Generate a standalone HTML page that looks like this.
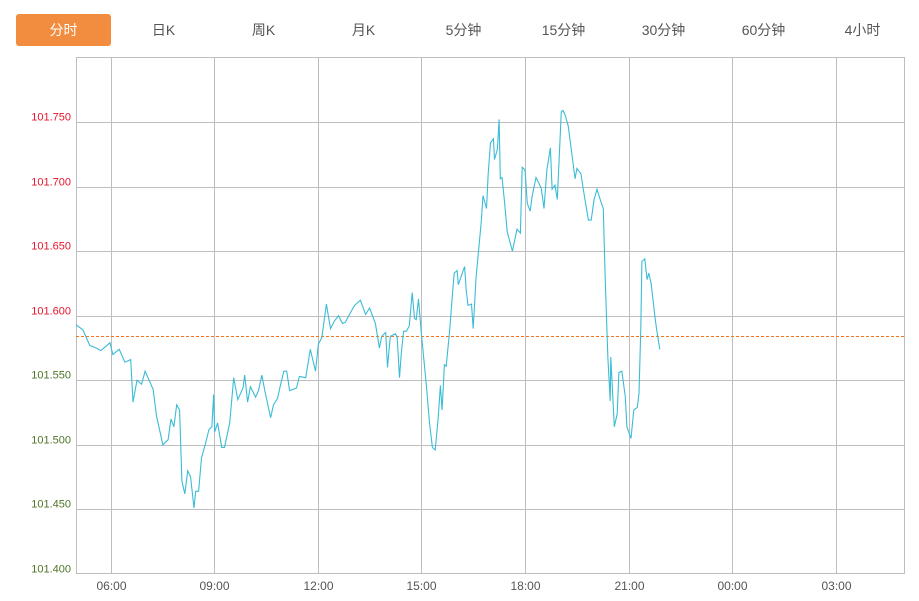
<!DOCTYPE html>
<html><head><meta charset="utf-8"><style>
body{margin:0;width:919px;height:601px;background:#fff;overflow:hidden;font-family:"Liberation Sans","Noto Sans CJK SC",sans-serif}
.tabs{position:absolute;left:0;top:0;width:919px;height:50px}
.tab{position:absolute;top:14px;height:32px;width:95px;line-height:32px;text-align:center;font-size:14px;color:#555}
.tab.active{background:#f28c3f;color:#fff;border-radius:3px}
svg{position:absolute;left:0;top:0}
</style></head><body>
<div class="tabs">
<div class="tab active" style="left:16px">分时</div>
<div class="tab" style="left:116px">日K</div>
<div class="tab" style="left:216px">周K</div>
<div class="tab" style="left:316px">月K</div>
<div class="tab" style="left:416px">5分钟</div>
<div class="tab" style="left:516px">15分钟</div>
<div class="tab" style="left:616px">30分钟</div>
<div class="tab" style="left:716px">60分钟</div>
<div class="tab" style="left:815px">4小时</div>
</div>
<svg id="chart" width="919" height="601"></svg>
<script>
const yTicks=[101.400,101.450,101.500,101.550,101.600,101.650,101.700,101.750];
const xTickLabels=["06:00","09:00","12:00","15:00","18:00","21:00","00:00","03:00"];
const xTickMinutes=[60,240,420,600,780,960,1140,1320];
const refPrice=101.584;
const minutes=[0,12,24,35,43,59,64,75,85,95,99,106,114,120,128,134,140,151,160,165,170,175,180,184,189,194,199,205,208,213,218,225,231,236,239,241,246,253,258,267,274,281,290,293,298,303,312,317,323,328,338,343,350,355,361,366,371,383,388,399,407,416,421,427,435,442,449,456,463,468,475,484,494,503,510,520,527,531,538,541,546,555,558,562,565,569,574,579,584,588,591,595,600,609,614,619,624,629,633,636,640,643,649,654,657,662,664,675,678,681,687,690,695,704,707,713,716,720,725,727,732,735,737,740,744,749,758,766,772,775,780,784,789,792,799,808,813,818,824,827,832,836,843,846,850,855,867,870,877,883,890,895,900,905,912,916,919,924,928,929,935,940,943,948,954,957,964,969,975,978,981,983,988,992,995,999,1006,1009,1014];
const prices=[101.593,101.589,101.577,101.575,101.573,101.579,101.570,101.574,101.564,101.566,101.533,101.550,101.547,101.557,101.549,101.543,101.522,101.500,101.504,101.520,101.514,101.531,101.527,101.472,101.462,101.480,101.475,101.451,101.464,101.464,101.490,101.501,101.512,101.514,101.539,101.510,101.517,101.498,101.498,101.517,101.552,101.535,101.544,101.554,101.533,101.545,101.537,101.542,101.554,101.542,101.521,101.531,101.536,101.546,101.557,101.557,101.542,101.544,101.553,101.552,101.574,101.557,101.578,101.583,101.609,101.590,101.596,101.600,101.594,101.595,101.601,101.608,101.612,101.601,101.606,101.594,101.575,101.584,101.587,101.560,101.584,101.586,101.583,101.552,101.571,101.588,101.588,101.592,101.618,101.598,101.597,101.613,101.586,101.544,101.517,101.498,101.496,101.520,101.546,101.527,101.562,101.561,101.588,101.617,101.633,101.635,101.624,101.638,101.619,101.608,101.609,101.590,101.630,101.673,101.693,101.683,101.710,101.734,101.737,101.721,101.729,101.752,101.706,101.707,101.690,101.665,101.650,101.667,101.664,101.715,101.713,101.687,101.681,101.692,101.707,101.699,101.683,101.713,101.730,101.698,101.701,101.690,101.758,101.759,101.755,101.747,101.706,101.714,101.710,101.693,101.674,101.674,101.690,101.698,101.688,101.683,101.631,101.567,101.534,101.568,101.514,101.524,101.556,101.557,101.538,101.514,101.505,101.527,101.529,101.540,101.590,101.642,101.644,101.628,101.633,101.625,101.598,101.588,101.574];
const L=76,R=905,T=57,B=574;
function xs(m){return L+m*(R-L)/1440;}
function ys(p){return 122+(101.75-p)*1291.4;}
const NS="http://www.w3.org/2000/svg";
const svg=document.getElementById('chart');
function mk(t,a){const e=document.createElementNS(NS,t);for(const k in a)e.setAttribute(k,a[k]);svg.appendChild(e);return e;}
let e=mk('rect',{x:L+0.5,y:T+0.5,width:R-L-1,height:B-T-1,fill:'none',stroke:'#bdbdbd'});


yTicks.forEach(v=>{
  const y=Math.round(ys(v))+0.5;
  if(v>101.4){const g=mk('line',{x1:L,x2:R,y1:y,y2:y,stroke:'#bdbdbd'});
  
  }
  const t=mk('text',{x:71,y:y-2,'text-anchor':'end','font-size':11,fill:v>refPrice?'#e8142c':'#4f7428'});
  t.textContent=v.toFixed(3);
  
  
});
xTickMinutes.forEach((m,i)=>{
  const x=Math.round(xs(m))+0.5;
  const g=mk('line',{x1:x,x2:x,y1:T,y2:B,stroke:'#bdbdbd'});
  
  
  const t=mk('text',{x:x,y:590,'text-anchor':'middle','font-size':12,fill:'#555'});
  t.textContent=xTickLabels[i];
  
  
});
const ry=Math.round(ys(refPrice))+0.5;
e=mk('line',{x1:L,x2:R,y1:ry,y2:ry,stroke:'#f5731f','stroke-dasharray':'3,2'});


const pts=minutes.map((m,i)=>xs(m).toFixed(1)+','+ys(prices[i]).toFixed(1)).join(' ');
e=mk('polyline',{points:pts,fill:'none',stroke:'#3bbcd6','stroke-width':1.1});


</script>
</body></html>
